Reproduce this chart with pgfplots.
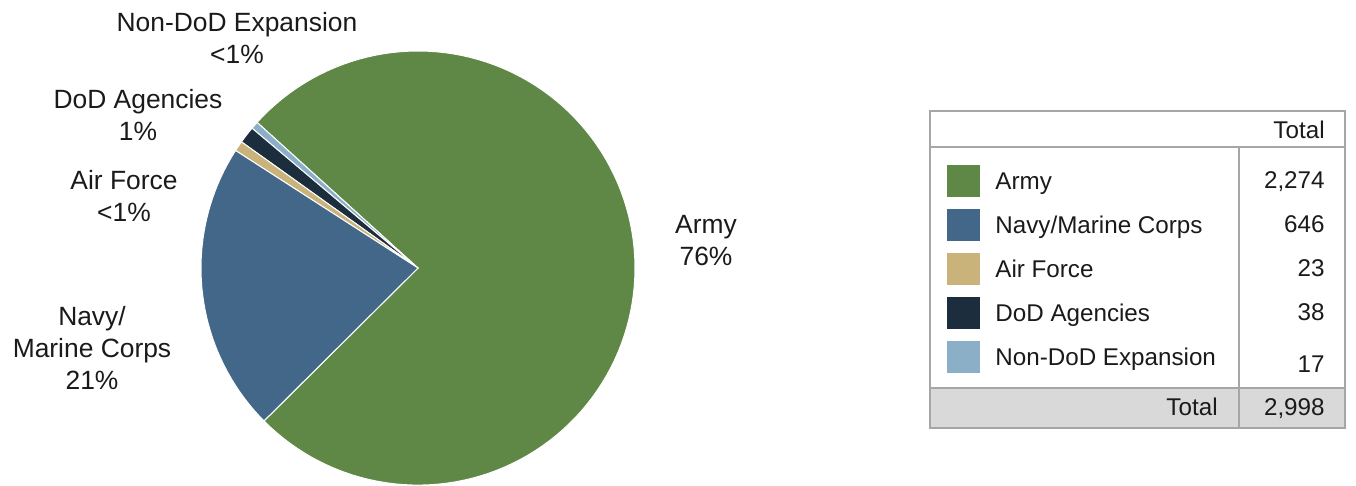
\documentclass[border=0pt]{standalone}
\usepackage{fontspec}
\setmainfont{Liberation Sans}
\usepackage{pgfplots}
\pgfplotsset{compat=1.18}
\definecolor{army}{HTML}{5F8745}
\definecolor{navy}{HTML}{426789}
\definecolor{airf}{HTML}{C9B37B}
\definecolor{dod}{HTML}{1C2E3E}
\definecolor{nondod}{HTML}{8AAFC7}
\definecolor{tgray}{HTML}{D9D9D9}
\definecolor{tline}{HTML}{A6A6A6}
\definecolor{txt}{HTML}{1A1A1A}
% values
\def\vArmy{2274}
\def\vNavy{646}
\def\vAir{23}
\def\vDoD{38}
\def\vNon{17}
\begin{document}
\begin{tikzpicture}
\pgfmathsetmacro{\tot}{\vArmy+\vNavy+\vAir+\vDoD+\vNon}
\pgfmathsetmacro{\aS}{-135.2}
\pgfmathsetmacro{\aA}{\aS+\vArmy/\tot*360}
\pgfmathsetmacro{\aN}{\aA+\vNon/\tot*360}
\pgfmathsetmacro{\aD}{\aN+\vDoD/\tot*360}
\pgfmathsetmacro{\aF}{\aD+\vAir/\tot*360}
\pgfmathsetmacro{\aV}{\aF+\vNavy/\tot*360}
\begin{axis}[
  width=678pt, height=242.5pt, scale only axis,
  xmin=0, xmax=1356, ymin=0, ymax=485,
  hide axis, clip=false,
]
\path (axis cs:0,0) rectangle (axis cs:1356,485);
% pie slices
\addplot[fill=army, draw=white, line width=0.5pt, domain=\aS:\aA, samples=120, variable=\t]
  ({418+217*cos(\t)}, {217+217*sin(\t)}) -- (axis cs:418,217) -- cycle;
\addplot[fill=nondod, draw=white, line width=0.5pt, domain=\aA:\aN, samples=5, variable=\t]
  ({418+217*cos(\t)}, {217+217*sin(\t)}) -- (axis cs:418,217) -- cycle;
\addplot[fill=dod, draw=white, line width=0.5pt, domain=\aN:\aD, samples=5, variable=\t]
  ({418+217*cos(\t)}, {217+217*sin(\t)}) -- (axis cs:418,217) -- cycle;
\addplot[fill=airf, draw=white, line width=0.5pt, domain=\aD:\aF, samples=5, variable=\t]
  ({418+217*cos(\t)}, {217+217*sin(\t)}) -- (axis cs:418,217) -- cycle;
\addplot[fill=navy, draw=white, line width=0.5pt, domain=\aF:\aV, samples=40, variable=\t]
  ({418+217*cos(\t)}, {217+217*sin(\t)}) -- (axis cs:418,217) -- cycle;
% slice labels
\begin{scope}[every node/.style={align=center, text=txt, font=\fontsize{13.2}{16}\selectfont}]
\node at (axis cs:237,447) {Non-DoD Expansion\\<1\%};
\node at (axis cs:138,370) {DoD Agencies\\1\%};
\node at (axis cs:124,289) {Air Force\\<1\%};
\node at (axis cs:92,137) {Navy/\\Marine Corps\\21\%};
\node at (axis cs:706,244) {Army\\76\%};
\end{scope}
% table
\fill[tgray] (axis cs:930,57) rectangle (axis cs:1345,97);
\draw[tline, line width=0.75pt] (axis cs:930,57) rectangle (axis cs:1345,374);
\draw[tline, line width=0.75pt] (axis cs:930,338) -- (axis cs:1345,338);
\draw[tline, line width=0.75pt] (axis cs:930,97) -- (axis cs:1345,97);
\draw[tline, line width=0.75pt] (axis cs:1239,57) -- (axis cs:1239,338);
\begin{scope}[every node/.style={text=txt, font=\fontsize{12.1}{14}\selectfont, inner sep=0pt}]
\node[anchor=base east] at (axis cs:1325,347) {Total};
\fill[army]   (axis cs:947,288) rectangle (axis cs:980,320);
\fill[navy]   (axis cs:947,244) rectangle (axis cs:980,276);
\fill[airf]   (axis cs:947,200) rectangle (axis cs:980,232);
\fill[dod]    (axis cs:947,156) rectangle (axis cs:980,188);
\fill[nondod] (axis cs:947,112) rectangle (axis cs:980,144);
\node[anchor=base west] at (axis cs:995,296) {Army};
\node[anchor=base west] at (axis cs:995,252) {Navy/Marine Corps};
\node[anchor=base west] at (axis cs:995,208) {Air Force};
\node[anchor=base west] at (axis cs:995,164) {DoD Agencies};
\node[anchor=base west] at (axis cs:995,120) {Non-DoD Expansion};
\node[anchor=base east] at (axis cs:1325,297) {2,274};
\node[anchor=base east] at (axis cs:1325,253) {646};
\node[anchor=base east] at (axis cs:1325,209) {23};
\node[anchor=base east] at (axis cs:1325,165) {38};
\node[anchor=base east] at (axis cs:1325,113) {17};
\node[anchor=base east] at (axis cs:1218,70) {Total};
\node[anchor=base east] at (axis cs:1325,70) {2,998};
\end{scope}
\end{axis}
\end{tikzpicture}
\end{document}
